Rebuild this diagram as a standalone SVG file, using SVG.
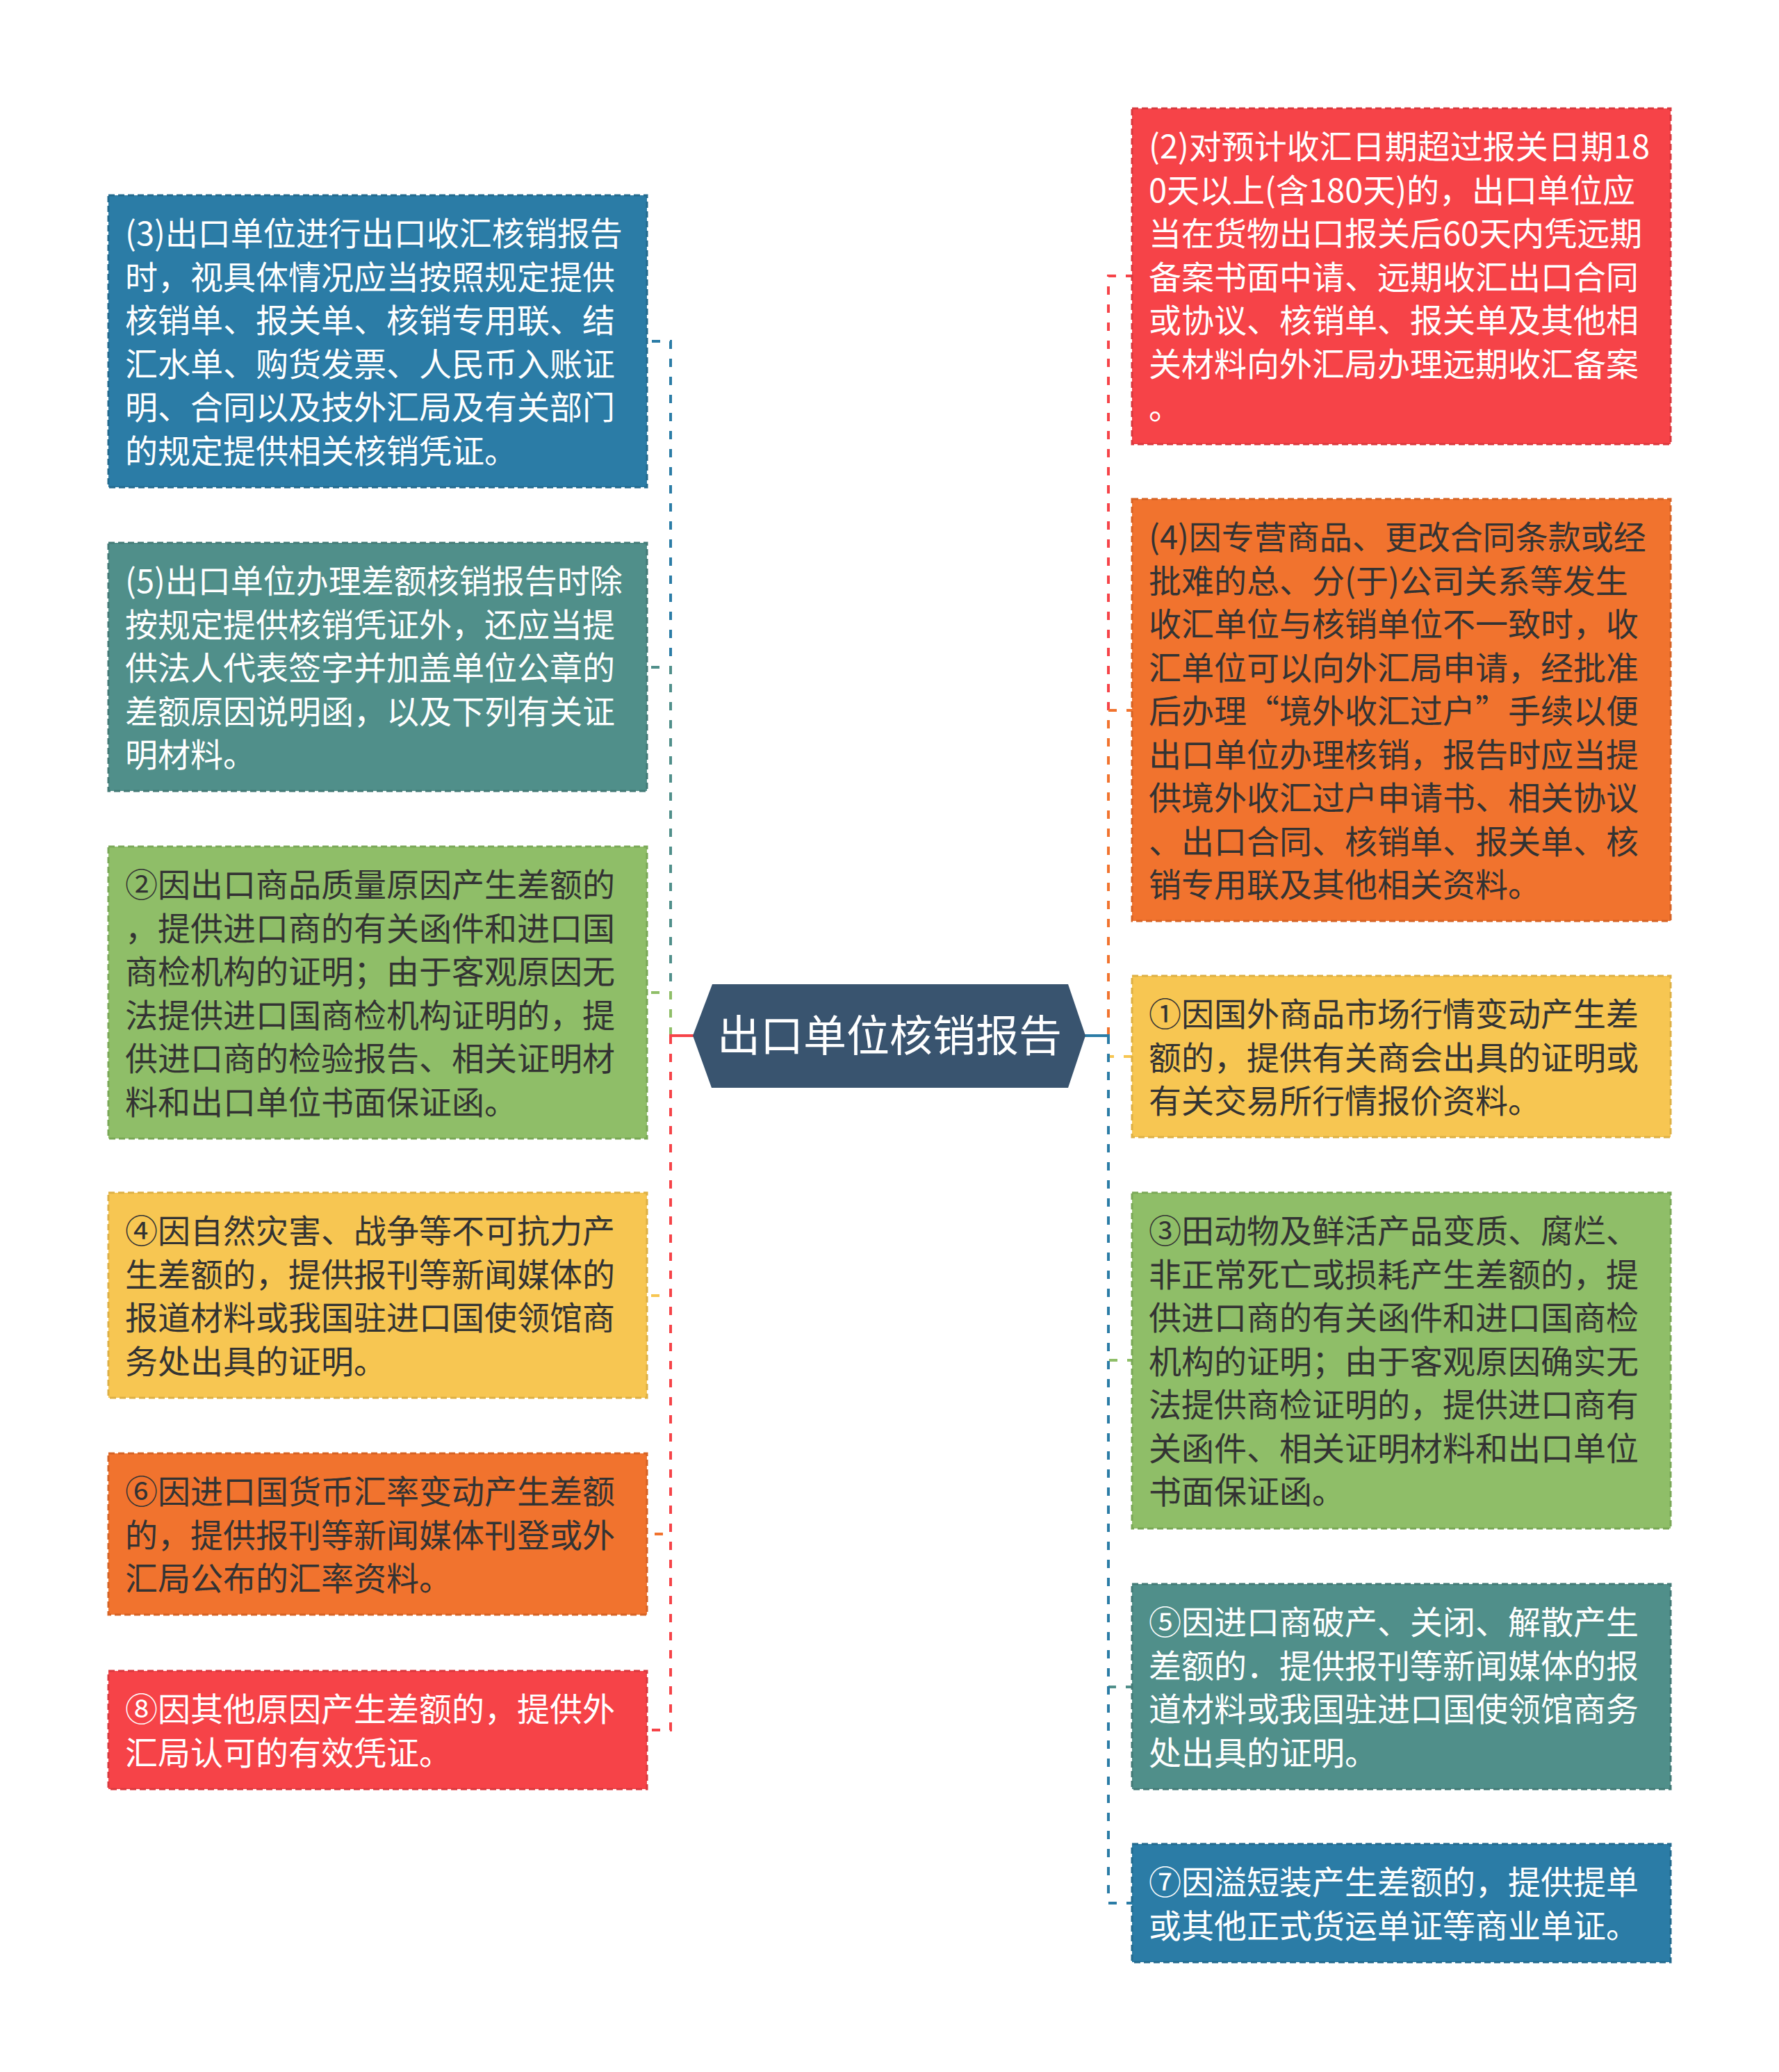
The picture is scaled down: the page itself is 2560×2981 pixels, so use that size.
<svg xmlns="http://www.w3.org/2000/svg" width="2560" height="2981" viewBox="0 0 2560 2981">
<style>
text{font-family:"Noto Sans CJK SC","Noto Sans",sans-serif;font-size:47px}
.w{fill:#ffffff}
.d{fill:#333333}
.box{stroke-width:3;stroke-dasharray:9 5}
.c{fill:none;stroke-width:4;stroke-dasharray:12 14}
.root{fill:none;stroke-width:4}
.blue{fill:#2b7ca6;stroke:#236a8e}
.teal{fill:#508f8a;stroke:#437a76}
.green{fill:#8fbe68;stroke:#7aa857}
.yellow{fill:#f7c652;stroke:#ddb045}
.orange{fill:#f1732e;stroke:#d66325}
.red{fill:#f64348;stroke:#d9393e}
</style>
<rect width="2560" height="2981" fill="#ffffff"/>
<g id="connectors">
<path class="c" stroke="#2b7ca6" d="M965 1490V491H931"/>
<path class="c" stroke="#508f8a" d="M965 1490V960H931"/>
<path class="c" stroke="#8fbe68" d="M965 1490V1428H931"/>
<path class="c" stroke="#f7c652" d="M965 1490V1864H931"/>
<path class="c" stroke="#f1732e" d="M965 1490V2207H931"/>
<path class="c" stroke="#f64348" d="M965 1490V2489H931"/>
<path class="root" stroke="#f64348" d="M998 1490H963"/>
<path class="c" stroke="#f64348" d="M1595 1490V397H1629"/>
<path class="c" stroke="#f1732e" d="M1595 1490V1022H1629"/>
<path class="c" stroke="#f7c652" d="M1595 1490V1520H1629"/>
<path class="c" stroke="#8fbe68" d="M1595 1490V1957H1629"/>
<path class="c" stroke="#508f8a" d="M1595 1490V2427H1629"/>
<path class="c" stroke="#2b7ca6" d="M1595 1490V2738H1629"/>
<path class="root" stroke="#2b7ca6" d="M1561 1490H1597"/>
</g>
<g id="root">
<polygon points="997,1490 1025,1416 1537,1416 1562,1490 1537,1565 1024,1565" fill="#39546f"/>
<text x="1280" y="1513" class="w" font-size="62" text-anchor="middle" style="font-size:62px">出口单位核销报告</text>
</g>
<g id="n-l1">
<rect class="box blue" x="156" y="281" width="775" height="420"/>
<text class="w" x="180"><tspan x="180" y="353">(3)出口单位进行出口收汇核销报告</tspan><tspan x="180" y="415.5">时，视具体情况应当按照规定提供</tspan><tspan x="180" y="478">核销单、报关单、核销专用联、结</tspan><tspan x="180" y="540.5">汇水单、购货发票、人民币入账证</tspan><tspan x="180" y="603">明、合同以及技外汇局及有关部门</tspan><tspan x="180" y="665.5">的规定提供相关核销凭证。</tspan></text>
</g>
<g id="n-l2">
<rect class="box teal" x="156" y="781" width="775" height="357"/>
<text class="w"><tspan x="180" y="853">(5)出口单位办理差额核销报告时除</tspan><tspan x="180" y="915.5">按规定提供核销凭证外，还应当提</tspan><tspan x="180" y="978">供法人代表签字并加盖单位公章的</tspan><tspan x="180" y="1040.5">差额原因说明函，以及下列有关证</tspan><tspan x="180" y="1103">明材料。</tspan></text>
</g>
<g id="n-l3">
<rect class="box green" x="156" y="1218" width="775" height="420"/>
<text class="d"><tspan x="180" y="1290">②因出口商品质量原因产生差额的</tspan><tspan x="180" y="1352.5">，提供进口商的有关函件和进口国</tspan><tspan x="180" y="1415">商检机构的证明；由于客观原因无</tspan><tspan x="180" y="1477.5">法提供进口国商检机构证明的，提</tspan><tspan x="180" y="1540">供进口商的检验报告、相关证明材</tspan><tspan x="180" y="1602.5">料和出口单位书面保证函。</tspan></text>
</g>
<g id="n-l4">
<rect class="box yellow" x="156" y="1716" width="775" height="295"/>
<text class="d"><tspan x="180" y="1788">④因自然灾害、战争等不可抗力产</tspan><tspan x="180" y="1850.5">生差额的，提供报刊等新闻媒体的</tspan><tspan x="180" y="1913">报道材料或我国驻进口国使领馆商</tspan><tspan x="180" y="1975.5">务处出具的证明。</tspan></text>
</g>
<g id="n-l5">
<rect class="box orange" x="156" y="2091" width="775" height="232"/>
<text class="d"><tspan x="180" y="2163">⑥因进口国货币汇率变动产生差额</tspan><tspan x="180" y="2225.5">的，提供报刊等新闻媒体刊登或外</tspan><tspan x="180" y="2288">汇局公布的汇率资料。</tspan></text>
</g>
<g id="n-l6">
<rect class="box red" x="156" y="2404" width="775" height="170"/>
<text class="w"><tspan x="180" y="2476">⑧因其他原因产生差额的，提供外</tspan><tspan x="180" y="2538.5">汇局认可的有效凭证。</tspan></text>
</g>
<g id="n-r1">
<rect class="box red" x="1629" y="156" width="775" height="483"/>
<text class="w"><tspan x="1653" y="228">(2)对预计收汇日期超过报关日期18</tspan><tspan x="1653" y="290.5">0天以上(含180天)的，出口单位应</tspan><tspan x="1653" y="353">当在货物出口报关后60天内凭远期</tspan><tspan x="1653" y="415.5">备案书面中请、远期收汇出口合同</tspan><tspan x="1653" y="478">或协议、核销单、报关单及其他相</tspan><tspan x="1653" y="540.5">关材料向外汇局办理远期收汇备案</tspan><tspan x="1653" y="603">。</tspan></text>
</g>
<g id="n-r2">
<rect class="box orange" x="1629" y="718" width="775" height="607"/>
<text class="d"><tspan x="1653" y="790">(4)因专营商品、更改合同条款或经</tspan><tspan x="1653" y="852.5">批难的总、分(于)公司关系等发生</tspan><tspan x="1653" y="915">收汇单位与核销单位不一致时，收</tspan><tspan x="1653" y="977.5">汇单位可以向外汇局申请，经批准</tspan><tspan x="1653" y="1040">后办理“境外收汇过户”手续以便</tspan><tspan x="1653" y="1102.5">出口单位办理核销，报告时应当提</tspan><tspan x="1653" y="1165">供境外收汇过户申请书、相关协议</tspan><tspan x="1653" y="1227.5">、出口合同、核销单、报关单、核</tspan><tspan x="1653" y="1290">销专用联及其他相关资料。</tspan></text>
</g>
<g id="n-r3">
<rect class="box yellow" x="1629" y="1404" width="775" height="232"/>
<text class="d"><tspan x="1653" y="1476">①因国外商品市场行情变动产生差</tspan><tspan x="1653" y="1538.5">额的，提供有关商会出具的证明或</tspan><tspan x="1653" y="1601">有关交易所行情报价资料。</tspan></text>
</g>
<g id="n-r4">
<rect class="box green" x="1629" y="1716" width="775" height="483"/>
<text class="d"><tspan x="1653" y="1788">③田动物及鲜活产品变质、腐烂、</tspan><tspan x="1653" y="1850.5">非正常死亡或损耗产生差额的，提</tspan><tspan x="1653" y="1913">供进口商的有关函件和进口国商检</tspan><tspan x="1653" y="1975.5">机构的证明；由于客观原因确实无</tspan><tspan x="1653" y="2038">法提供商检证明的，提供进口商有</tspan><tspan x="1653" y="2100.5">关函件、相关证明材料和出口单位</tspan><tspan x="1653" y="2163">书面保证函。</tspan></text>
</g>
<g id="n-r5">
<rect class="box teal" x="1629" y="2279" width="775" height="295"/>
<text class="w"><tspan x="1653" y="2351">⑤因进口商破产、关闭、解散产生</tspan><tspan x="1653" y="2413.5">差额的．提供报刊等新闻媒体的报</tspan><tspan x="1653" y="2476">道材料或我国驻进口国使领馆商务</tspan><tspan x="1653" y="2538.5">处出具的证明。</tspan></text>
</g>
<g id="n-r6">
<rect class="box blue" x="1629" y="2653" width="775" height="170"/>
<text class="w"><tspan x="1653" y="2725">⑦因溢短装产生差额的，提供提单</tspan><tspan x="1653" y="2787.5">或其他正式货运单证等商业单证。</tspan></text>
</g>
</svg>
